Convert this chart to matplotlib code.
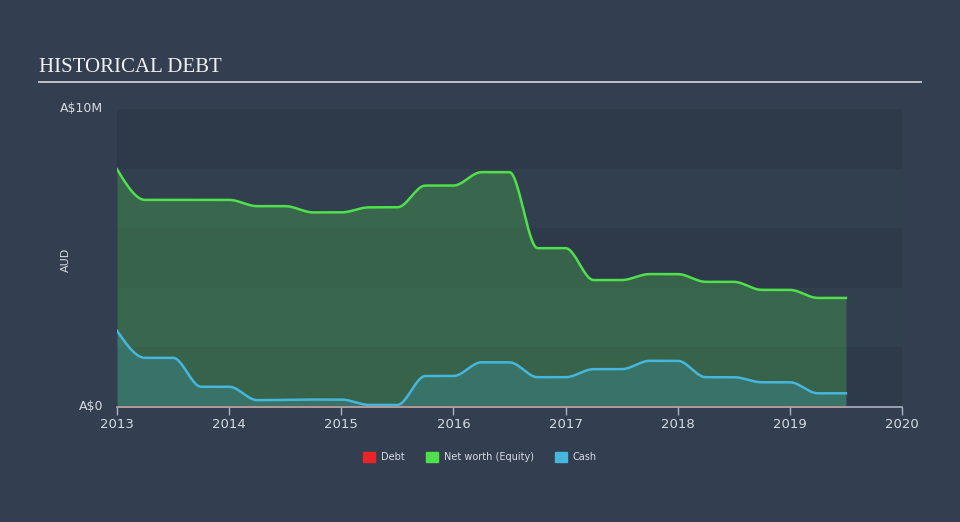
import numpy as np
import matplotlib
matplotlib.use("Agg")
import matplotlib.pyplot as plt
from matplotlib.patches import Patch

# Data (A$ millions), quarterly
dates = [2013.0, 2013.25, 2013.5, 2013.75, 2014.0, 2014.25, 2014.5, 2014.75,
         2015.0, 2015.25, 2015.5, 2015.75, 2016.0, 2016.25, 2016.5, 2016.75,
         2017.0, 2017.25, 2017.5, 2017.75, 2018.0, 2018.25, 2018.5, 2018.75,
         2019.0, 2019.25, 2019.5]
equity = [7.98, 6.95, 6.95, 6.95, 6.95, 6.74, 6.74, 6.53,
          6.53, 6.70, 6.70, 7.43, 7.43, 7.88, 7.88, 5.33,
          5.33, 4.26, 4.26, 4.46, 4.46, 4.20, 4.20, 3.93,
          3.93, 3.66, 3.66]
cash = [2.56, 1.65, 1.65, 0.68, 0.68, 0.23, 0.24, 0.25,
        0.25, 0.07, 0.07, 1.04, 1.04, 1.50, 1.50, 1.00,
        1.00, 1.27, 1.27, 1.55, 1.55, 1.00, 1.00, 0.83,
        0.83, 0.46, 0.46]
debt = [0.0] * len(dates)

year_ticks = [2013, 2014, 2015, 2016, 2017, 2018, 2019, 2020]
legend_labels = ["Debt", "Net worth (Equity)", "Cash"]

BG = "#333f50"
DEBT_C = "#e8262a"
EQ_C = "#4fe04c"
CASH_C = "#46b6dc"
TXT = "#d6dbe2"


def monotone(x, y, n=24):
    # monotone cubic (like d3 curveMonotoneX) for drawing only
    x = np.asarray(x, float)
    y = np.asarray(y, float)
    h = np.diff(x)
    s = np.diff(y) / h
    m = np.zeros_like(y)
    for i in range(1, len(y) - 1):
        s0, s1 = s[i - 1], s[i]
        p = (s0 * h[i] + s1 * h[i - 1]) / (h[i - 1] + h[i])
        m[i] = (np.sign(s0) + np.sign(s1)) * min(abs(s0), abs(s1), 0.5 * abs(p))
    m[0] = (3 * s[0] - m[1]) / 2
    m[-1] = (3 * s[-1] - m[-2]) / 2
    xs, ys = [], []
    for i in range(len(h)):
        t = np.linspace(0, 1, n, endpoint=False)
        h00 = 2 * t**3 - 3 * t**2 + 1
        h10 = t**3 - 2 * t**2 + t
        h01 = -2 * t**3 + 3 * t**2
        h11 = t**3 - t**2
        xs.append(x[i] + t * h[i])
        ys.append(h00 * y[i] + h10 * h[i] * m[i] + h01 * y[i + 1] + h11 * h[i] * m[i + 1])
    xs.append([x[-1]])
    ys.append([y[-1]])
    return np.concatenate(xs), np.concatenate(ys)


fig = plt.figure(figsize=(9.6, 5.22), dpi=100, facecolor=BG)
ax = fig.add_axes([117 / 960, 1 - 407 / 522, 785 / 960, 298 / 522])
ax.set_facecolor(BG)

# horizontal background bands
for k, lo in enumerate(range(0, 10, 2)):
    c = "#2e3a4a" if k % 2 == 0 else "#323f4f"
    ax.axhspan(lo, lo + 2, color=c, lw=0, zorder=0)

ex, ey = monotone(dates, equity)
cx, cy = monotone(dates, cash)
ax.fill_between(ex, 0, ey, color=EQ_C, alpha=0.25, lw=0, zorder=1)
ax.fill_between(cx, 0, cy, color=CASH_C, alpha=0.2, lw=0, zorder=2)
ax.plot(ex, ey, color=EQ_C, lw=1.8, zorder=3)
ax.plot(cx, cy, color=CASH_C, lw=1.8, zorder=3)
ax.plot(dates, debt, color="#e07a6a", lw=1.2, alpha=0.8, zorder=4)

ax.set_xlim(2013, 2020)
ax.set_ylim(0, 10)
for sp in ["top", "right", "left"]:
    ax.spines[sp].set_visible(False)
ax.spines["bottom"].set_color("#aab2be")
ax.spines["bottom"].set_linewidth(1.2)
ax.set_xticks(year_ticks)
ax.set_xticklabels([str(y) for y in year_ticks])
ax.tick_params(axis="x", colors="#aab2be", length=6, width=1, labelcolor=TXT,
               labelsize=9.5, pad=2)
ax.set_yticks([])

fig.text(103 / 960, 1 - 109 / 522, "A$10M", ha="right", va="center",
         color=TXT, fontsize=9)
fig.text(103 / 960, 1 - 407 / 522, "A$0", ha="right", va="center",
         color=TXT, fontsize=9)
fig.text(66 / 960, 1 - 260 / 522, "AUD", rotation=90, ha="center", va="center",
         color=TXT, fontsize=8)

fig.text(39 / 960, 1 - 68 / 522, "HISTORICAL DEBT", ha="left", va="center",
         color="#f0f0f0", fontsize=15, family="Liberation Serif")
fig.add_artist(plt.Line2D([39 / 960, 921 / 960], [1 - 82 / 522, 1 - 82 / 522],
                          color="#c8ccd2", lw=1.3))

handles = [Patch(color=DEBT_C), Patch(color=EQ_C), Patch(color=CASH_C)]
fig.legend(handles, legend_labels, loc="center", bbox_to_anchor=(0.5, 1 - 457 / 522),
           ncol=3, frameon=False, fontsize=7, labelcolor=TXT,
           handlelength=1.2, handleheight=1.2, handletextpad=0.6, columnspacing=2.2)

fig.savefig("out.png", dpi=100, facecolor=BG)
